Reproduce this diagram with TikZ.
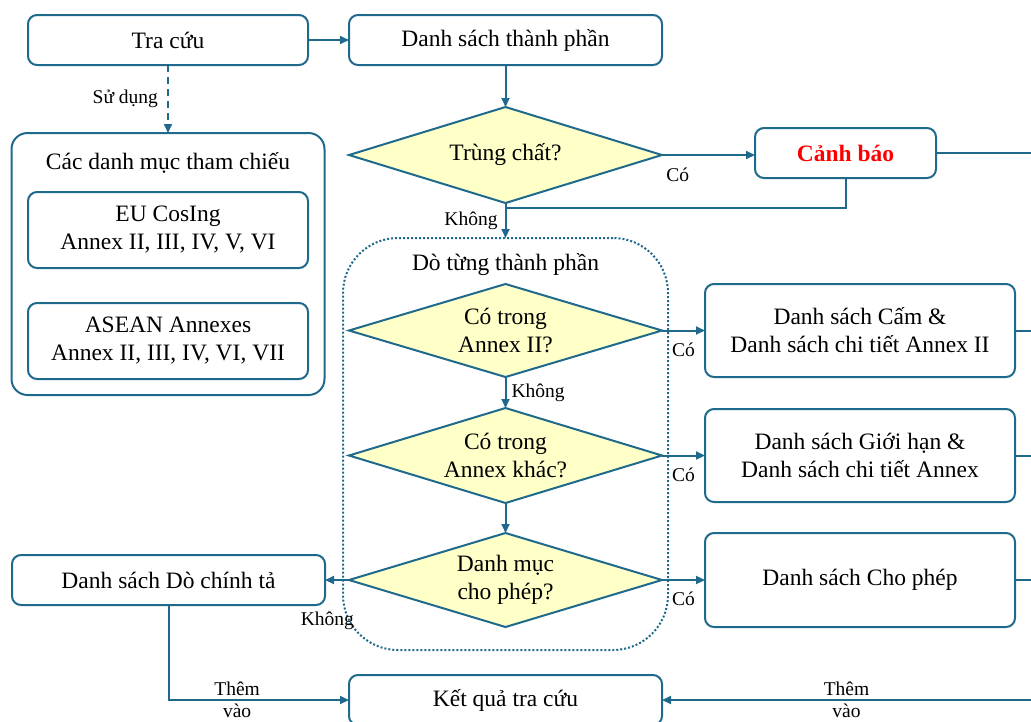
\documentclass[tikz,border=0pt]{standalone}
\usepackage{fontspec}
\setmainfont{Liberation Serif}
\usetikzlibrary{positioning,shapes.geometric,arrows.meta}
\definecolor{flowblue}{HTML}{1F6A8C}
\definecolor{askfill}{HTML}{FFFFC8}

\begin{document}
\begin{tikzpicture}[>={Triangle[length=9pt,width=8pt]}, x=1pt, y=-1pt,
    box/.style={draw=flowblue, line width=2pt, rounded corners=9pt, minimum width=313pt, minimum height=50pt, inner sep=0pt, outer sep=0pt, align=center, font=\fontsize{23.5}{28}\selectfont},
    ask/.style={diamond, draw=flowblue, fill=askfill, line width=2pt, aspect=3.3, minimum width=313pt, minimum height=95pt, inner sep=0pt, outer sep=0pt, align=center, font=\fontsize{23.5}{28}\selectfont},
    panel/.style={draw=flowblue, line width=2pt, rounded corners=16pt, outer sep=0pt},
    group/.style={draw=flowblue, line width=2pt, dotted, rounded corners=55pt, outer sep=0pt},
    head/.style={inner sep=2pt, font=\fontsize{23.5}{28}\selectfont},
    tag/.style={inner sep=3pt, font=\fontsize{19.5}{21}\selectfont},
    link/.style={draw=flowblue, line width=2pt}]
        \useasboundingbox (0,0) rectangle (1031,721);
        \coordinate (edge) at (1031,0);

        % Nodes
        \node[box, minimum width=280pt] (tra) at (168,40) {Tra cứu};
        \node[box, right=41pt of tra] (ds) {Danh sách thành phần};
        \node[ask, below=42pt of ds, minimum height=96pt] (trung) {Trùng chất?};
        \node[box, minimum width=181pt, right=93pt of trung, yshift=2pt, text=red, font=\fontsize{23.5}{28}\selectfont\bfseries] (canh) {Cảnh báo};

        \node[panel, below=68pt of tra, minimum width=313pt, minimum height=262pt] (cat) {};
        \node[head] (cathead) at ([yshift=-30pt]cat.north) {Các danh mục tham chiếu};
        \node[box, minimum width=280pt, minimum height=76pt, below=59pt of cat.north] (eu) {EU CosIng\\Annex II, III, IV, V, VI};
        \node[box, minimum width=280pt, minimum height=76pt, below=35pt of eu] (asean) {ASEAN Annexes\\Annex II, III, IV, VI, VII};

        \node[group, below=35pt of trung, minimum width=325pt, minimum height=412pt] (scan) {};
        \node[head] (scanhead) at ([yshift=-27pt]scan.north) {Dò từng thành phần};
        \node[ask, below=46pt of scan.north, minimum height=93pt] (an2) {Có trong\\Annex II?};
        \node[ask, below=31pt of an2] (an3) {Có trong\\Annex khác?};
        \node[ask, below=30pt of an3, minimum height=94pt] (cho) {Danh mục\\cho phép?};

        \node[box, minimum width=310pt, minimum height=93pt, right=43pt of an2] (cam) {Danh sách Cấm \&\\Danh sách chi tiết Annex II};
        \node[box, minimum width=310pt, minimum height=93pt, right=43pt of an3] (gh) {Danh sách Giới hạn \&\\Danh sách chi tiết Annex};
        \node[box, minimum width=310pt, minimum height=94pt, right=43pt of cho] (cp) {Danh sách Cho phép};
        \node[box, left=24pt of cho] (dct) {Danh sách Dò chính tả};
        \node[box, below=48pt of cho] (kq) {Kết quả tra cứu};
        \coordinate (join) at ([yshift=-5pt]trung.south);

        % Edges
        \draw[link, ->] (tra) -- (ds);
        \draw[link, ->, dash pattern=on 7pt off 5pt] (tra) -- (cat) node[midway, tag, left=6pt] {Sử dụng};
        \draw[link, ->] (ds) -- (trung);
        \draw[link, ->] (trung.east) -- (trung.east -| canh.west) node[pos=0.17, tag, below=9pt] {Có};
        \draw[link] (canh) -- (canh.east -| edge);
        \draw[link, ->] (trung) -- (scan) node[midway, tag, left=4pt] {Không};
        \draw[link] (canh) |- (join);
        \draw[link, ->] (an2) -- (cam) node[midway, tag, below=8pt] {Có};
        \draw[link, ->] (an2) -- (an3) node[midway, tag, right=2pt] {Không};
        \draw[link, ->] (an3) -- (gh) node[midway, tag, below=8pt] {Có};
        \draw[link, ->] (an3) -- (cho);
        \draw[link, ->] (cho) -- (cp) node[midway, tag, below=8pt] {Có};
        \draw[link, ->] (cho) -- (dct) node[pos=0.9, tag, below=28pt] {Không};
        \draw[link] (cam) -- (cam.east -| edge);
        \draw[link] (gh) -- (gh.east -| edge);
        \draw[link] (cp) -- (cp.east -| edge);
        \draw[link, ->] (dct) |- (kq) node[pos=0.69, tag, above] {Thêm} node[pos=0.69, tag, below] {vào};
        \draw[link, ->] (kq.east -| edge) -- (kq) node[midway, tag, above] {Thêm} node[midway, tag, below] {vào};
    \end{tikzpicture}
\end{document}
